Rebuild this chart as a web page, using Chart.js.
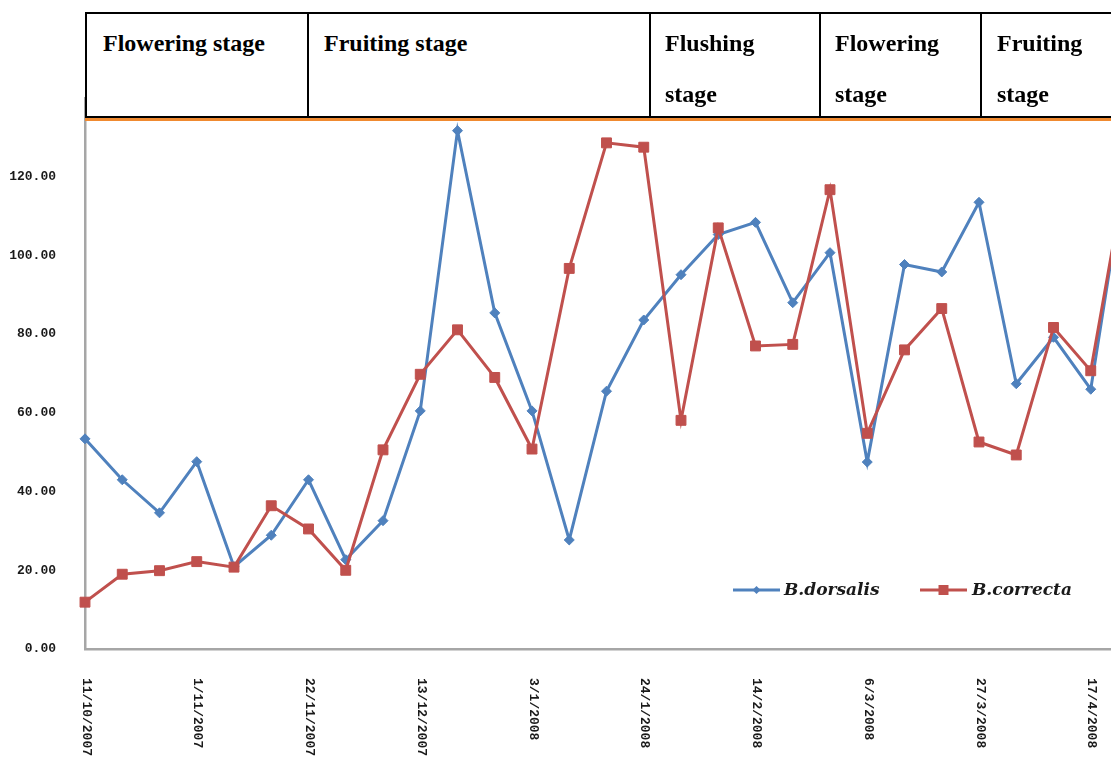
<!DOCTYPE html>
<html>
<head>
<meta charset="utf-8">
<script src="https://cdn.jsdelivr.net/npm/chart.js@4.4.1/dist/chart.umd.min.js"></script>
<style>
html,body{margin:0;padding:0;background:#fff;overflow:hidden;width:1111px;height:758px;}
#wrap{position:relative;width:1111px;height:758px;overflow:hidden;background:#fff;}
#c{position:absolute;left:0;top:0;width:1140px;height:758px;}
#hdr{position:absolute;left:85px;top:12px;width:1100px;height:106px;border:2px solid #000;box-sizing:border-box;background:#fff;}
.sep{position:absolute;top:0;width:2px;height:102px;background:#000;}
.cell{position:absolute;top:4px;font:bold 24px "Liberation Serif","Times New Roman",serif;line-height:51px;color:#000;white-space:nowrap;}
#orange{position:absolute;left:85px;top:118px;width:1100px;height:3px;background:#F08A30;}
</style>
</head>
<body>
<div id="wrap">
  <canvas id="c" width="1140" height="758"></canvas>
  <div id="hdr">
    <div class="sep" style="left:220px"></div>
    <div class="sep" style="left:562px"></div>
    <div class="sep" style="left:732px"></div>
    <div class="sep" style="left:893px"></div>
    <div class="cell" style="left:16px">Flowering stage</div>
    <div class="cell" style="left:237px">Fruiting stage</div>
    <div class="cell" style="left:578px">Flushing<br>stage</div>
    <div class="cell" style="left:748px">Flowering<br>stage</div>
    <div class="cell" style="left:910px">Fruiting<br>stage</div>
  </div>
  <div id="orange"></div>
</div>
<script>
// ---- data ----
const dates = [
  "11/10/2007","18/10/2007","25/10/2007","1/11/2007","8/11/2007","15/11/2007",
  "22/11/2007","29/11/2007","6/12/2007","13/12/2007","20/12/2007","27/12/2007",
  "3/1/2008","10/1/2008","17/1/2008","24/1/2008","31/1/2008","7/2/2008",
  "14/2/2008","21/2/2008","28/2/2008","6/3/2008","13/3/2008","20/3/2008",
  "27/3/2008","3/4/2008","10/4/2008","17/4/2008","24/4/2008"
];
const dorsalis = [53.4, 43.0, 34.6, 47.6, 20.9, 28.9, 43.0, 22.7, 32.6, 60.5,
  131.7, 85.4, 60.5, 27.7, 65.5, 83.6, 95.1, 105.3, 108.4, 88.0,
  100.7, 47.5, 97.7, 95.8, 113.5, 67.4, 79.2, 66.0, 126.0];
const correcta = [11.9, 19.0, 19.9, 22.2, 20.8, 36.4, 30.5, 20.0, 50.6, 69.8,
  81.1, 69.0, 50.8, 96.7, 128.6, 127.5, 58.1, 107.0, 77.0, 77.4,
  116.7, 54.8, 76.0, 86.5, 52.6, 49.3, 81.7, 70.7, 124.0];
const seriesNames = ["B.dorsalis", "B.correcta"];
const yTickStep = 20;
const yMax = 140;
const xLabelEvery = 3;

const BLUE = '#4F81BD';
const RED = '#C0504D';
const TICK_FONT = 'bold 13px "Liberation Mono", "DejaVu Sans Mono", monospace';

const customDraw = {
  id: 'customDraw',
  afterDraw(chart) {
    const ctx = chart.ctx;
    const xs = chart.scales.x;
    ctx.save();
    ctx.font = TICK_FONT;
    ctx.fillStyle = '#1a1a1a';
    ctx.textAlign = 'left';
    ctx.textBaseline = 'middle';
    dates.forEach((d, i) => {
      if (i % xLabelEvery !== 0) return;
      const x = xs.getPixelForValue(i);
      ctx.save();
      ctx.translate(x + 1, chart.chartArea.bottom + 29);
      ctx.rotate(Math.PI / 2);
      ctx.fillText(d, 0, 0);
      ctx.restore();
    });
    // legend
    const items = [
      {x1: 733, x2: 780, color: BLUE, style: 'diamond', tx: 784},
      {x1: 920, x2: 967, color: RED, style: 'square', tx: 972}
    ];
    const ly = 590;
    items.forEach((it, k) => {
      ctx.strokeStyle = it.color;
      ctx.fillStyle = it.color;
      ctx.lineWidth = 3;
      ctx.beginPath();
      ctx.moveTo(it.x1, ly); ctx.lineTo(it.x2, ly); ctx.stroke();
      const mx = (it.x1 + it.x2) / 2;
      ctx.beginPath();
      if (it.style === 'diamond') {
        ctx.moveTo(mx - 4, ly); ctx.lineTo(mx, ly - 4); ctx.lineTo(mx + 4, ly); ctx.lineTo(mx, ly + 4);
      } else {
        ctx.rect(mx - 5, ly - 5, 10, 10);
      }
      ctx.closePath(); ctx.fill();
      ctx.fillStyle = '#1a1a1a';
      ctx.font = 'italic bold 17px "DejaVu Serif", serif';
      ctx.textAlign = 'left';
      ctx.textBaseline = 'middle';
      ctx.fillText(seriesNames[k], it.tx, ly + 1);
    });
    ctx.restore();
  }
};

new Chart(document.getElementById('c'), {
  type: 'line',
  data: {
    labels: dates,
    datasets: [
      {label: seriesNames[0], data: dorsalis, borderColor: BLUE, backgroundColor: BLUE,
       borderWidth: 3, pointStyle: 'rectRot', pointRadius: 5, pointBorderWidth: 1,
       tension: 0, order: 1, clip: false},
      {label: seriesNames[1], data: correcta, borderColor: RED, backgroundColor: RED,
       borderWidth: 3, pointStyle: 'rect', pointRadius: 7, pointBorderWidth: 1,
       tension: 0, order: 0, clip: false}
    ]
  },
  options: {
    responsive: false,
    animation: false,
    devicePixelRatio: 1,
    layout: {padding: {top: 98, right: 12, bottom: 0, left: 0}},
    plugins: {legend: {display: false}, tooltip: {enabled: false}},
    scales: {
      x: {
        offset: false,
        grid: {display: false, drawTicks: false},
        border: {color: '#a6a6a6', width: 2.5},
        ticks: {display: false},
        afterFit: s => { s.height = 109; }
      },
      y: {
        min: 0, max: yMax,
        grid: {display: false, drawTicks: false},
        border: {color: '#a6a6a6', width: 2.5},
        ticks: {
          stepSize: yTickStep, padding: 29, color: '#1a1a1a',
          font: {family: '"Liberation Mono", "DejaVu Sans Mono", monospace', size: 13, weight: 'bold'},
          callback: v => (v >= yMax ? '' : Number(v).toFixed(2))
        },
        afterFit: s => { s.width = 85; }
      }
    }
  },
  plugins: [customDraw]
});
</script>
</body>
</html>
